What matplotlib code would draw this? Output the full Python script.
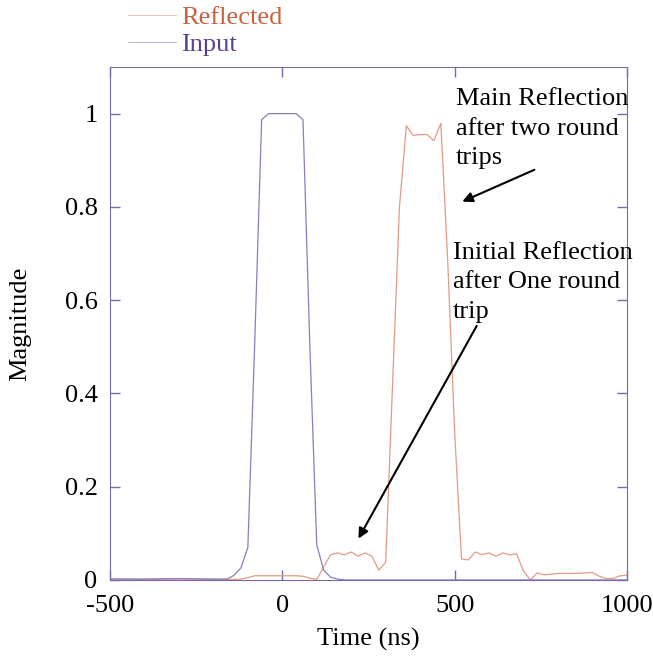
import matplotlib
matplotlib.use('Agg')
from matplotlib import pyplot as plt

plt.rcParams['font.family'] = ['Liberation Serif', 'DejaVu Serif']

# Input pulse (ns, magnitude)
t_input = [-500, -400, -300, -200, -160, -140, -120, -100, -80, -60, -40, -20, 0,
           20, 40, 60, 80, 100, 120, 140, 160, 180, 1000]
input_mag = [0.002, 0.002, 0.003, 0.002, 0.002, 0.01, 0.026, 0.07, 0.51, 0.987, 1.0, 1.0, 1.0,
             1.0, 1.0, 0.987, 0.5, 0.075, 0.021, 0.006, 0.002, 0.0, 0.0]

# Reflected signal
t_refl = [-500, -400, -300, -200, -140, -120, -100, -80, -60, -40, -20, 0, 20, 40, 60, 80,
          100, 120, 140, 160, 180, 200, 220, 240, 260, 280, 300, 320, 340, 360, 380, 400,
          420, 440, 460, 480, 500, 520, 540, 560, 580, 600, 620, 640, 660, 680, 700, 720,
          740, 760, 800, 840, 880, 900, 920, 940, 960, 980, 1000]
refl_mag = [0.002, 0.001, 0.002, 0.001, 0.001, 0.002, 0.005, 0.009, 0.009, 0.009, 0.009, 0.009,
            0.009, 0.009, 0.008, 0.004,
            0.001, 0.028, 0.054, 0.058, 0.054, 0.06, 0.051, 0.058, 0.051, 0.021, 0.038, 0.42,
            0.80, 0.974, 0.953, 0.955,
            0.955, 0.942, 0.979, 0.685, 0.32, 0.045, 0.043, 0.06, 0.054, 0.058, 0.051, 0.058,
            0.054, 0.056, 0.019, 0.0,
            0.015, 0.011, 0.014, 0.014, 0.015, 0.016, 0.008, 0.003, 0.003, 0.009, 0.01]

x_ticks = [-500, 0, 500, 1000]
y_ticks = [0, 0.2, 0.4, 0.6, 0.8, 1.0]
y_tick_labels = ['0', '0.2', '0.4', '0.6', '0.8', '1']

frame = '#7a68ad'
fig = plt.figure(figsize=(6.53, 6.56), dpi=100)
ax = fig.add_axes([0.1685, 0.1159, 0.7915, 0.782])

ax.plot(t_refl, refl_mag, color='#e59a83', lw=0.9, label='Reflected')
ax.plot(t_input, input_mag, color='#8a7cc0', lw=0.9, label='Input')

ax.set_xlim(-500, 1000)
ax.set_ylim(0, 1.1)
ax.set_xticks(x_ticks, [str(v) for v in x_ticks])
ax.set_yticks(y_ticks, y_tick_labels)
ax.tick_params(direction='in', length=7, width=1, color=frame, labelsize=19,
               top=True, right=True)
ax.tick_params(axis='x', pad=11)
ax.tick_params(axis='y', pad=9)
for s in ax.spines.values():
    s.set_color(frame)

ax.set_xlabel('Time (ns)', fontsize=19, labelpad=8)
ax.set_ylabel('Magnitude', fontsize=19, labelpad=24)

leg = ax.legend(loc='lower left', bbox_to_anchor=(0.005, 0.99), frameon=False, fontsize=19,
                handlelength=1.8, handletextpad=0.2, labelspacing=0.15, borderpad=0.1,
                labelcolor=['#c8623c', '#5b3f91'])
for h in leg.get_lines():
    h.set_linewidth(0.6)
    h.set_alpha(0.7)

ax.text(504, 1.054, 'Main Reflection\nafter two round\ntrips', fontsize=19, va='top',
        ha='left', linespacing=1.42)
ax.text(495, 0.724, 'Initial Reflection\nafter One round\ntrip', fontsize=19, va='top',
        ha='left', linespacing=1.42)

ax.annotate('', xy=(515, 0.809), xytext=(739, 0.882),
            arrowprops=dict(arrowstyle='-|>', color='black', lw=1.5, mutation_scale=15))
ax.annotate('', xy=(217, 0.0835), xytext=(568, 0.55),
            arrowprops=dict(arrowstyle='-|>', color='black', lw=1.5, mutation_scale=15))

fig.savefig('out.png', dpi=100)
